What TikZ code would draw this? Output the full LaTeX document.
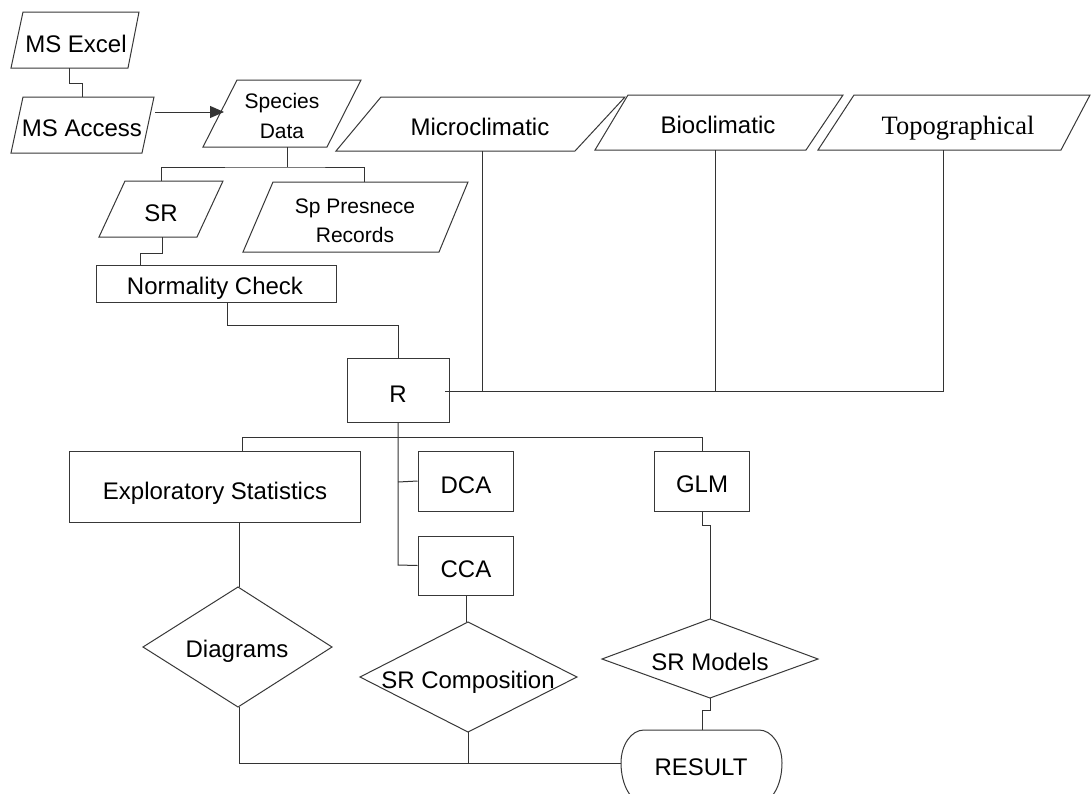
\documentclass[tikz,border=0pt]{standalone}
\usepackage{fontspec}
\setmainfont{Liberation Sans}
\newfontfamily\timesf{Liberation Serif}
\usetikzlibrary{arrows.meta}
\begin{document}
\begin{tikzpicture}[x=1pt,y=-1pt,
  txt/.style={font=\fontsize{24}{28}\selectfont,inner sep=0pt,text=black,anchor=base},
  smalltxt/.style={font=\fontsize{21}{25}\selectfont,inner sep=0pt,text=black,anchor=base},
  boxnode/.style={draw=black!78,line width=1pt,rectangle,inner sep=0pt},
  shapeline/.style={line width=1pt,draw=black!78},
  conn/.style={line width=1pt,draw=black!80}]
\useasboundingbox (0,0) rectangle (1092,793);
\clip (0,0) rectangle (1092,793);
\fill[white] (0,0) rectangle (1092,793);

% ---------- parallelograms ----------
\draw[shapeline] (23,12) -- (139,12) -- (128,68) -- (11,68) -- cycle;
\node[txt] (excel) at (76,52) {MS Excel};
\draw[shapeline] (23,97) -- (154,97) -- (142,153) -- (11,153) -- cycle;
\node[txt] (access) at (82,136) {MS Access};
\draw[shapeline] (237,80) -- (361,80) -- (327,147) -- (203,147) -- cycle;
\node[smalltxt] (species1) at (282,108) {Species};
\node[smalltxt] (species2) at (282,138) {Data};
\draw[shapeline] (381,97) -- (625,97) -- (575,151) -- (336,151) -- cycle;
\node[txt] (micro) at (480,135) {Microclimatic};
\draw[shapeline] (628,95) -- (843,95) -- (806,150) -- (595,150) -- cycle;
\node[txt] (bio) at (718,133) {Bioclimatic};
\draw[shapeline] (854,95) -- (1090,95) -- (1061,150) -- (818,150) -- cycle;
\node[txt,font=\timesf\fontsize{26.5}{30}\selectfont] (topo) at (958,134) {Topographical};
\draw[shapeline] (125,181) -- (223,181) -- (197,237) -- (99,237) -- cycle;
\node[txt] (sr) at (161,221) {SR};
\draw[shapeline] (273,182) -- (468,182) -- (439,252) -- (243,252) -- cycle;
\node[smalltxt] (sppres1) at (355,213) {Sp Presnece};
\node[smalltxt] (sppres2) at (355,242) {Records};

% ---------- rectangles ----------
\node[boxnode,minimum width=240,minimum height=37] (norm) at (216,283.5) {};
\node[txt] (normT) at (215,294) {Normality Check};
\node[boxnode,minimum width=102,minimum height=64] (R) at (398,390) {};
\node[txt] (RT) at (398,402) {R};
\node[boxnode,minimum width=291,minimum height=71] (expl) at (214.5,486.5) {};
\node[txt] (explT) at (215,499) {Exploratory Statistics};
\node[boxnode,minimum width=95,minimum height=60] (dca) at (465.5,481) {};
\node[txt] (dcaT) at (466,493) {DCA};
\node[boxnode,minimum width=95,minimum height=60] (glm) at (701.5,481) {};
\node[txt] (glmT) at (702,492) {GLM};
\node[boxnode,minimum width=95,minimum height=59] (cca) at (465.5,565.5) {};
\node[txt] (ccaT) at (466,577) {CCA};

% ---------- diamonds ----------
\draw[shapeline] (238,587) -- (332,647) -- (238,707) -- (143,647) -- cycle;
\node[txt] (diag) at (237,657) {Diagrams};
\draw[shapeline] (468,622) -- (577,677) -- (468,732) -- (360,677) -- cycle;
\node[txt] (srcomp) at (468,688) {SR Composition};
\draw[shapeline] (710,619) -- (818,659) -- (710,698) -- (602,659) -- cycle;
\node[txt] (srmod) at (710,670) {SR Models};

% ---------- terminator ----------
\draw[shapeline] (644,730) -- (759,730)
  .. controls (771.7,730) and (782,744.8) .. (782,763)
  .. controls (782,785.1) and (771.7,803) .. (759,803)
  -- (644,803)
  .. controls (631.3,803) and (621,785.1) .. (621,763)
  .. controls (621,744.8) and (631.3,730) .. (644,730) -- cycle;
\node[txt] (result) at (701,775) {RESULT};

% ---------- connection points ----------
\coordinate (excelB) at (69,68);
\coordinate (accessT) at (82,97);
\coordinate (accessR) at (155,112);
\coordinate (speciesL) at (224,112);
\coordinate (speciesB) at (287,147);
\coordinate (srT) at (161,181);
\coordinate (spT) at (364,182);
\coordinate (srB) at (162,237);
\coordinate (microB) at (482,151);
\coordinate (bioB) at (715,150);
\coordinate (topoB) at (943,150);
\coordinate (diagT) at (239,587);
\coordinate (diagB) at (239,707);
\coordinate (srcompT) at (466,622);
\coordinate (srcompB) at (468,732);
\coordinate (srmodT) at (710,619);
\coordinate (srmodB) at (710,698);
\coordinate (resultL) at (621,763);
\coordinate (resultT) at (702,730);
\coordinate (rbus) at (398,437);

% ---------- connectors ----------
\draw[conn] (excelB) -- ++(0,15) -| (accessT);
\draw[conn,-{Triangle[length=14pt,width=12pt]}] (accessR) -- (speciesL);
\draw[conn] (speciesB) -- ++(0,20) coordinate (spbus);
\draw[conn] (srT) |- (spbus) -| (spT);
\draw[conn] (srB) -- ++(0,16) -| ([xshift=-76pt]norm.north);
\draw[conn] ([xshift=11pt]norm.south) -- ++(0,23) -| (R.north);
\draw[conn] (microB) -- (482,391);
\draw[conn] (bioB) -- (715,391);
\draw[conn] (topoB) -- (943,391) -- ([xshift=-5pt]R.east |- 0,391);
\draw[conn] (R.south) -- (398,565) -- (cca.west);
\draw[conn] (398,482) -- (dca.west);
\draw[conn] (rbus -| 242,0) -- (rbus -| 702,0);
\draw[conn] (rbus -| 242,0) -- ([xshift=27.5pt]expl.north);
\draw[conn] (rbus -| 702,0) -- ([xshift=0.5pt]glm.north);
\draw[conn] ([xshift=24.5pt]expl.south) -- (diagT);
\draw[conn] ([xshift=0.5pt]cca.south) -- (srcompT);
\draw[conn] ([xshift=0.5pt]glm.south) -- ++(0,14) -| (srmodT);
\draw[conn] (srmodB) -- ++(0,12) -| (resultT);
\draw[conn] (diagB) |- (resultL);
\draw[conn] (srcompB) -- (468,763);
\end{tikzpicture}
\end{document}
